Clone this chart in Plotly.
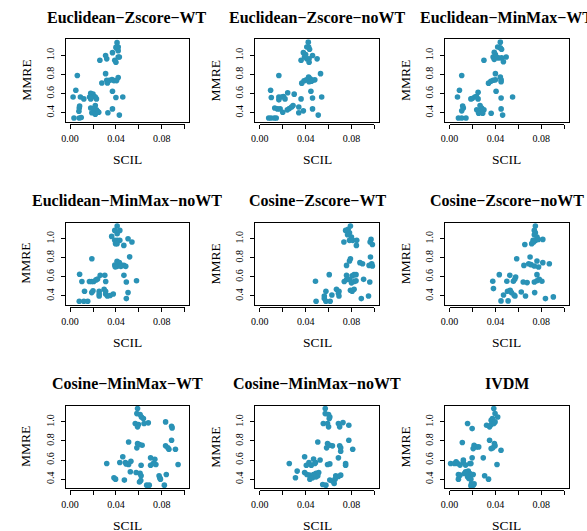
import plotly.graph_objects as go

titles = ["Euclidean−Zscore−WT", "Euclidean−Zscore−noWT", "Euclidean−MinMax−WT",
          "Euclidean−MinMax−noWT", "Cosine−Zscore−WT", "Cosine−Zscore−noWT",
          "Cosine−MinMax−WT", "Cosine−MinMax−noWT", "IVDM"]

ez_wt = [(0.041,1.135),(0.042,1.09),(0.040,1.085),(0.0414,1.07),(0.042,1.05),(0.037,1.03),(0.031,1.0),
         (0.032,0.965),(0.026,0.95),(0.039,0.95),(0.040,0.93),(0.042,0.985),(0.043,0.985),(0.031,0.81),
         (0.042,0.77),(0.0277,0.712),(0.032,0.74),(0.0343,0.74),(0.0366,0.747),(0.0383,0.737),(0.0406,0.737),
         (0.0326,0.712),(0.0063,0.79),(0.037,0.625),(0.005,0.635),(0.0026,0.565),(0.009,0.565),(0.012,0.545),
         (0.018,0.605),(0.020,0.595),(0.021,0.57),(0.022,0.565),(0.023,0.545),(0.017,0.565),(0.018,0.545),
         (0.040,0.56),(0.046,0.565),(0.008,0.45),(0.0077,0.415),(0.0083,0.47),(0.018,0.45),(0.021,0.43),
         (0.022,0.475),(0.023,0.43),(0.024,0.415),(0.019,0.40),(0.022,0.385),(0.025,0.405),(0.037,0.44),
         (0.033,0.40),(0.043,0.375),(0.0034,0.345),(0.008,0.345),(0.0097,0.35)]
ez_nowt = [(0.0423,1.14),(0.041,1.09),(0.0426,1.09),(0.0434,1.065),(0.038,1.03),(0.040,1.01),(0.046,1.0),
           (0.043,0.965),(0.041,0.965),(0.039,0.985),(0.050,0.965),(0.036,0.95),(0.043,0.93),(0.053,0.81),
           (0.0166,0.79),(0.0426,0.775),(0.044,0.755),(0.046,0.74),(0.048,0.745),(0.0366,0.71),(0.0386,0.735),
           (0.0406,0.745),(0.043,0.725),(0.045,0.73),(0.0094,0.635),(0.0446,0.625),(0.0243,0.61),(0.030,0.595),
           (0.0166,0.565),(0.019,0.565),(0.0206,0.57),(0.022,0.545),(0.0166,0.535),(0.010,0.56),(0.036,0.545),
           (0.046,0.555),(0.054,0.565),(0.013,0.45),(0.0154,0.44),(0.0177,0.44),(0.024,0.43),(0.0257,0.445),
           (0.0277,0.46),(0.029,0.475),(0.034,0.46),(0.020,0.405),(0.034,0.40),(0.038,0.42),(0.046,0.44),
           (0.051,0.375),(0.0077,0.345),(0.0097,0.345),(0.0126,0.345),(0.0143,0.345)]
em_wt = [(0.0443,1.14),(0.042,1.09),(0.0443,1.08),(0.0454,1.065),(0.039,1.035),(0.040,1.01),(0.038,0.985),
         (0.0406,0.985),(0.0426,0.975),(0.0454,0.975),(0.0494,0.985),(0.039,0.96),(0.047,0.935),(0.030,0.95),
         (0.0106,0.79),(0.040,0.81),(0.0443,0.775),(0.045,0.745),(0.045,0.725),(0.034,0.71),(0.036,0.73),
         (0.038,0.74),(0.040,0.745),(0.0086,0.635),(0.0406,0.625),(0.0069,0.565),(0.055,0.565),(0.045,0.555),
         (0.0249,0.615),(0.0234,0.57),(0.022,0.565),(0.0197,0.55),(0.0186,0.545),(0.0249,0.545),(0.012,0.45),
         (0.0106,0.42),(0.0114,0.47),(0.0266,0.475),(0.028,0.45),(0.030,0.43),(0.0237,0.43),(0.0271,0.41),
         (0.0254,0.395),(0.0289,0.395),(0.0363,0.395),(0.045,0.44),(0.0463,0.375),(0.0077,0.345),
         (0.0106,0.345),(0.0143,0.345)]
em_nowt = [(0.0411,1.133),(0.039,1.087),(0.0434,1.087),(0.0411,1.052),(0.0363,1.024),(0.039,0.983),
           (0.0411,0.983),(0.0434,0.983),(0.0397,0.948),(0.041,0.948),(0.0469,0.93),(0.0506,1.0),(0.054,0.965),
           (0.052,0.81),(0.019,0.79),(0.041,0.763),(0.043,0.749),(0.039,0.725),(0.041,0.71),(0.0446,0.725),
           (0.0469,0.72),(0.0486,0.71),(0.0394,0.705),(0.0443,0.71),(0.047,0.616),(0.0083,0.627),(0.0103,0.551),
           (0.0169,0.551),(0.0189,0.551),(0.0206,0.551),(0.0226,0.568),(0.024,0.578),(0.0263,0.616),
           (0.0303,0.616),(0.0311,0.551),(0.0491,0.546),(0.058,0.56),(0.0126,0.449),(0.0189,0.435),(0.020,0.455),
           (0.0254,0.449),(0.0254,0.42),(0.0254,0.40),(0.0297,0.47),(0.031,0.449),(0.031,0.42),(0.0326,0.40),
           (0.0349,0.405),(0.0377,0.42),(0.0506,0.435),(0.0491,0.372),(0.008,0.344),(0.012,0.344),(0.0154,0.344)]
cz_wt = [(0.0791,1.133),(0.0749,1.087),(0.0771,1.098),(0.0783,1.063),(0.0766,1.042),(0.080,1.017),
         (0.0783,0.983),(0.0811,0.983),(0.0846,0.983),(0.0734,0.965),(0.0843,0.93),(0.0971,0.993),
         (0.0963,0.965),(0.0983,0.94),(0.0966,0.808),(0.0791,0.79),(0.0783,0.766),(0.0874,0.749),
         (0.0897,0.738),(0.0757,0.72),(0.0954,0.72),(0.0977,0.738),(0.0983,0.714),(0.0606,0.623),
         (0.0757,0.616),(0.0806,0.61),(0.0823,0.623),(0.084,0.623),(0.0486,0.554),(0.0737,0.551),
         (0.0757,0.572),(0.0783,0.572),(0.080,0.537),(0.0823,0.551),(0.084,0.558),(0.0906,0.574),
         (0.096,0.546),(0.0577,0.449),(0.0563,0.40),(0.0563,0.372),(0.0629,0.41),(0.0669,0.47),
         (0.0691,0.449),(0.0686,0.428),(0.0691,0.40),(0.0791,0.46),(0.0806,0.449),(0.0823,0.47),
         (0.0886,0.372),(0.0949,0.40),(0.0491,0.344),(0.0577,0.344),(0.0614,0.344)]
cz_nowt = [(0.0749,1.133),(0.074,1.087),(0.0749,1.063),(0.074,1.042),(0.0763,1.017),(0.0729,0.983),
           (0.0751,0.983),(0.0774,0.993),(0.0814,0.993),(0.0717,0.948),(0.0734,0.965),(0.0657,0.94),
           (0.0703,0.808),(0.0586,0.79),(0.0763,0.766),(0.0814,0.749),(0.0871,0.738),(0.0649,0.72),
           (0.0691,0.738),(0.0711,0.728),(0.074,0.714),(0.0777,0.703),(0.0434,0.623),(0.0763,0.623),
           (0.0526,0.616),(0.0577,0.599),(0.0377,0.554),(0.05,0.554),(0.0557,0.554),(0.0569,0.574),
           (0.0643,0.546),(0.0677,0.54),(0.074,0.546),(0.0763,0.56),(0.0783,0.574),(0.0806,0.554),
           (0.0383,0.477),(0.0471,0.41),(0.0506,0.449),(0.0529,0.46),(0.054,0.435),(0.0563,0.41),
           (0.0571,0.40),(0.0626,0.442),(0.0663,0.40),(0.0743,0.435),(0.0837,0.372),(0.0906,0.39),
           (0.0449,0.348),(0.0511,0.348)]
cm_wt = [(0.0589,1.14),(0.0583,1.087),(0.0611,1.077),(0.0623,1.052),(0.064,1.035),(0.0569,0.983),
         (0.0597,0.972),(0.0589,0.948),(0.0646,0.983),(0.0683,0.99),(0.0834,1.0),(0.0886,0.955),
         (0.0891,0.937),(0.0511,0.79),(0.0886,0.808),(0.0589,0.773),(0.0606,0.763),(0.0629,0.756),
         (0.0583,0.728),(0.0834,0.749),(0.0854,0.728),(0.0863,0.714),(0.092,0.714),(0.046,0.634),
         (0.0703,0.623),(0.074,0.609),(0.032,0.564),(0.0434,0.574),(0.0483,0.574),(0.0531,0.588),
         (0.0511,0.554),(0.049,0.56),(0.062,0.546),(0.0703,0.546),(0.0749,0.554),(0.0726,0.564),
         (0.0943,0.554),(0.0526,0.477),(0.0577,0.47),(0.0611,0.46),(0.062,0.435),(0.0617,0.385),
         (0.0606,0.37),(0.0383,0.414),(0.0397,0.40),(0.0474,0.39),(0.0777,0.435),(0.0783,0.414),
         (0.0789,0.40),(0.084,0.449),(0.0669,0.337),(0.0691,0.337),(0.0823,0.337)]
cm_nowt = [(0.0571,1.14),(0.0571,1.087),(0.06,1.077),(0.0611,1.052),(0.0606,1.035),(0.0554,0.983),
           (0.0591,0.983),(0.06,0.948),(0.0686,0.983),(0.0726,0.993),(0.0697,0.948),(0.0777,0.965),
           (0.0506,0.79),(0.0777,0.808),(0.0591,0.773),(0.0611,0.756),(0.0634,0.749),(0.0583,0.728),
           (0.0697,0.749),(0.0706,0.728),(0.0706,0.693),(0.0811,0.714),(0.0391,0.634),(0.0686,0.623),
           (0.0469,0.61),(0.0486,0.574),(0.0429,0.574),(0.0406,0.546),(0.0449,0.546),(0.0526,0.6),
           (0.048,0.564),(0.0591,0.554),(0.0611,0.56),(0.0749,0.564),(0.0749,0.546),(0.0257,0.564),
           (0.0326,0.484),(0.0311,0.414),(0.0391,0.47),(0.0411,0.449),(0.0434,0.442),(0.0469,0.449),
           (0.0491,0.46),(0.0514,0.47),(0.0506,0.435),(0.0437,0.40),(0.046,0.414),(0.0491,0.424),
           (0.0663,0.435),(0.0686,0.428),(0.0706,0.442),(0.0611,0.39),(0.0634,0.38),(0.0649,0.355),
           (0.0657,0.40),(0.0549,0.344),(0.0577,0.337)]
ivdm = [(0.0386,1.14),(0.0397,1.087),(0.042,1.052),(0.0374,1.035),(0.0363,1.017),(0.0323,0.965),
        (0.0349,0.948),(0.0363,0.972),(0.0386,0.983),(0.0397,1.0),(0.0157,0.983),(0.0197,0.93),
        (0.0111,0.784),(0.0349,0.808),(0.0391,0.773),(0.0397,0.749),(0.0363,0.72),(0.0377,0.728),
        (0.0449,0.703),(0.0214,0.756),(0.0234,0.738),(0.0254,0.738),(0.0206,0.72),(0.0197,0.623),
        (0.0294,0.623),(0.0009,0.564),(0.0043,0.564),(0.0057,0.581),(0.0071,0.564),(0.0091,0.547),
        (0.012,0.599),(0.012,0.574),(0.014,0.547),(0.0177,0.564),(0.0186,0.564),(0.0414,0.554),
        (0.0077,0.449),(0.0091,0.442),(0.0077,0.40),(0.0129,0.459),(0.014,0.477),(0.0163,0.484),
        (0.0177,0.459),(0.0191,0.449),(0.0157,0.424),(0.0169,0.407),(0.0186,0.40),(0.0206,0.449),
        (0.0306,0.435),(0.034,0.40),(0.0191,0.35),(0.0206,0.337),(0.0186,0.33),(0.0214,0.35)]

panels = [ez_wt, ez_nowt, em_wt, em_nowt, cz_wt, cz_nowt, cm_wt, cm_nowt, ivdm]

x_ticks = [0.0, 0.02, 0.04, 0.06, 0.08, 0.10]
x_ticktext = ["0.00", "", "0.04", "", "0.08", ""]
y_ticks = [0.4, 0.6, 0.8, 1.0]
y_ticktext = ["0.4", "0.6", "0.8", "1.0"]
x_lim = [0.0, 0.10]
y_lim = [0.34, 1.136]

W, H = 587, 531
col_left = [57.4, 250.1, 442.8]
row_top = [39.3, 222.5, 405.7]
box_w, box_h = 125.6, 82.4
color = "rgb(42,146,182)"
FONT = "Liberation Serif"

def ext(lim):
    d = (lim[1] - lim[0]) * 0.04
    return [lim[0] - d, lim[1] + d]

xr = ext(x_lim)
yr = [0.306, 1.17]

fig = go.Figure()
layout = dict(width=W, height=H, margin=dict(l=0, r=0, t=0, b=0), autosize=False,
              paper_bgcolor="white", plot_bgcolor="rgba(0,0,0,0)", showlegend=False)
annotations = []
for i, pts in enumerate(panels):
    r, c = divmod(i, 3)
    n = i + 1
    L = col_left[c]; T = row_top[r]
    x0, x1 = L / W, (L + box_w) / W
    y0, y1 = 1 - (T + box_h) / H, 1 - T / H
    xs = [p[0] for p in pts]; ys = [p[1] for p in pts]
    fig.add_trace(go.Scatter(x=xs, y=ys, mode="markers", xaxis=f"x{n}", yaxis=f"y{n}",
                             marker=dict(size=5.6, color=color), hoverinfo="skip"))
    # secondary x axis for R-style offset axis line spanning tick range
    m = n + 9
    fig.add_trace(go.Scatter(x=[None], y=[None], xaxis=f"x{m}", yaxis=f"y{n}", mode="markers",
                             hoverinfo="skip"))
    fx0 = x0 + (x_lim[0] - xr[0]) / (xr[1] - xr[0]) * (x1 - x0)
    fx1 = x0 + (x_lim[1] - xr[0]) / (xr[1] - xr[0]) * (x1 - x0)
    sfx = "" if n == 1 else str(n)
    layout[f"xaxis{sfx}"] = dict(domain=[x0, x1], range=xr, anchor=f"y{n}", showline=True, mirror=True,
                                 linecolor="black", linewidth=1, ticks="", showticklabels=False,
                                 showgrid=False, zeroline=False)
    layout[f"yaxis{sfx}"] = dict(domain=[y0, y1], range=yr, anchor=f"x{n}", showline=True, mirror=True,
                                 linecolor="black", linewidth=1, ticks="outside", ticklen=4,
                                 tickcolor="black", tickwidth=1, tickvals=y_ticks, ticktext=y_ticktext,
                                 tickangle=-90, tickfont=dict(family=FONT, size=10, color="black"),
                                 ticklabelstandoff=3, showgrid=False, zeroline=False)
    layout[f"xaxis{m}"] = dict(domain=[fx0, fx1], range=x_lim, anchor="free", position=y0 - 2.3 / H,
                               showline=True, linecolor="black", linewidth=1, ticks="outside", ticklen=4,
                               tickcolor="black", tickwidth=1, tickvals=x_ticks, ticktext=x_ticktext,
                               tickfont=dict(family=FONT, size=10, color="black"), ticklabelstandoff=1,
                               showgrid=False, zeroline=False)
    cx = (L + box_w / 2) / W
    annotations.append(dict(text=f"<b>{titles[i]}</b>", x=cx, y=1 - (T - 22) / H, xref="paper", yref="paper",
                            showarrow=False, xanchor="center", yanchor="middle",
                            font=dict(family=FONT, size=16, color="black")))
    annotations.append(dict(text="SCIL", x=cx, y=1 - (T + box_h + 37.6) / H, xref="paper", yref="paper",
                            showarrow=False, xanchor="center", yanchor="middle",
                            font=dict(family=FONT, size=13.5, color="black")))
    annotations.append(dict(text="MMRE", x=(L - 40) / W, y=1 - (T + box_h / 2) / H, xref="paper",
                            yref="paper", showarrow=False, xanchor="center", yanchor="middle", textangle=-90,
                            font=dict(family=FONT, size=13.5, color="black")))

layout["annotations"] = annotations
fig.update_layout(**layout)
fig.write_html("out.html")
